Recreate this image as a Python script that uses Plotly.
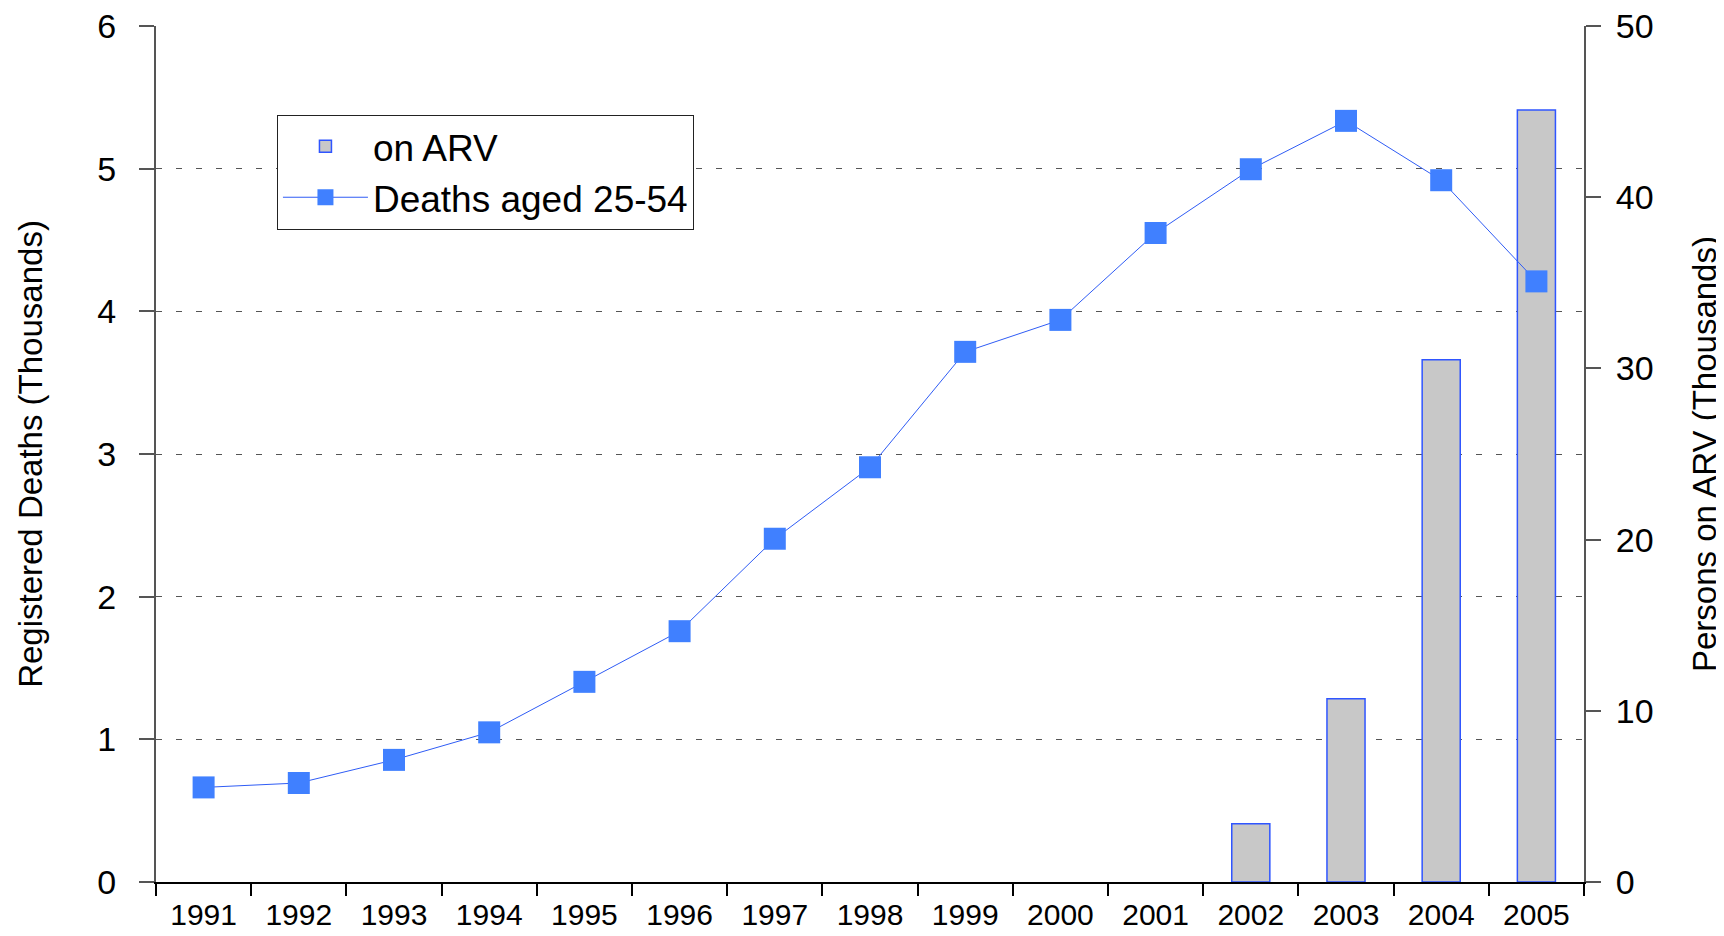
import plotly.graph_objects as go

years = [str(y) for y in range(1991, 2006)]
deaths = [0.663, 0.694, 0.856, 1.049, 1.403, 1.758, 2.406, 2.907, 3.716, 3.940,
          4.549, 4.996, 5.335, 4.919, 4.210]
arv = [None] * 11 + [3.4, 10.7, 30.5, 45.1]

left_ticks = [0, 1, 2, 3, 4, 5, 6]
right_ticks = [0, 10, 20, 30, 40, 50]

fig = go.Figure()
fig.add_trace(go.Bar(
    x=years, y=arv, name="on ARV", yaxis="y",
    width=0.4,
    marker=dict(color="#C8C8C8", line=dict(color="#2F55FF", width=1.5)),
))
fig.add_trace(go.Scatter(
    x=years, y=deaths, name="Deaths aged 25-54", yaxis="y2",
    mode="lines+markers",
    line=dict(color="#2F5CF5", width=1),
    marker=dict(symbol="square", size=22, color="#4080FF"),
))

axis_font = dict(family="Liberation Sans, Arial, sans-serif", size=34, color="black")
title_font = dict(family="Liberation Sans, Arial, sans-serif", size=33, color="black")

fig.update_layout(
    width=1716, height=928,
    margin=dict(l=148, r=140, t=18, b=54, autoexpand=False),
    paper_bgcolor="white", plot_bgcolor="white",
    bargap=0.6,
    showlegend=True,
    legend=dict(
        x=0.0847, y=0.8965, xanchor="left", yanchor="top",
        bgcolor="white", bordercolor="#222", borderwidth=1,
        font=dict(family="Liberation Sans, Arial, sans-serif", size=37, color="black"),
        itemwidth=85, tracegroupgap=0,
    ),
    xaxis=dict(
        type="category", range=[-0.5, 14.5],
        showline=True, linecolor="black", linewidth=1.5,
        ticks="outside", tickson="boundaries", ticklen=12, tickcolor="black", tickwidth=1.5,
        ticklabelstandoff=5,
        showgrid=False, zeroline=False,
        tickfont=dict(family="Liberation Sans, Arial, sans-serif", size=30, color="black"),
    ),
    yaxis=dict(
        side="right", range=[0, 50], tickvals=right_ticks,
        showline=True, linecolor="#555", linewidth=2,
        ticks="outside", ticklen=15, tickcolor="#555", tickwidth=1.5,
        ticklabelstandoff=8, ticklabeloverflow="allow",
        showgrid=False, zeroline=False,
        tickfont=axis_font,
        title=dict(text="Persons on ARV (Thousands)", font=title_font, standoff=40),
    ),
    yaxis2=dict(
        side="left", overlaying="y", range=[0, 6], tickvals=left_ticks,
        showline=True, linecolor="#555", linewidth=2,
        ticks="outside", ticklen=15, tickcolor="#555", tickwidth=1.5,
        ticklabelstandoff=16, ticklabeloverflow="allow",
        showgrid=True, gridcolor="#555", gridwidth=1, griddash="6px,14px",
        zeroline=False,
        tickfont=axis_font,
        title=dict(text="Registered Deaths (Thousands)", font=title_font, standoff=45),
    ),
)

fig.write_html("out.html")
